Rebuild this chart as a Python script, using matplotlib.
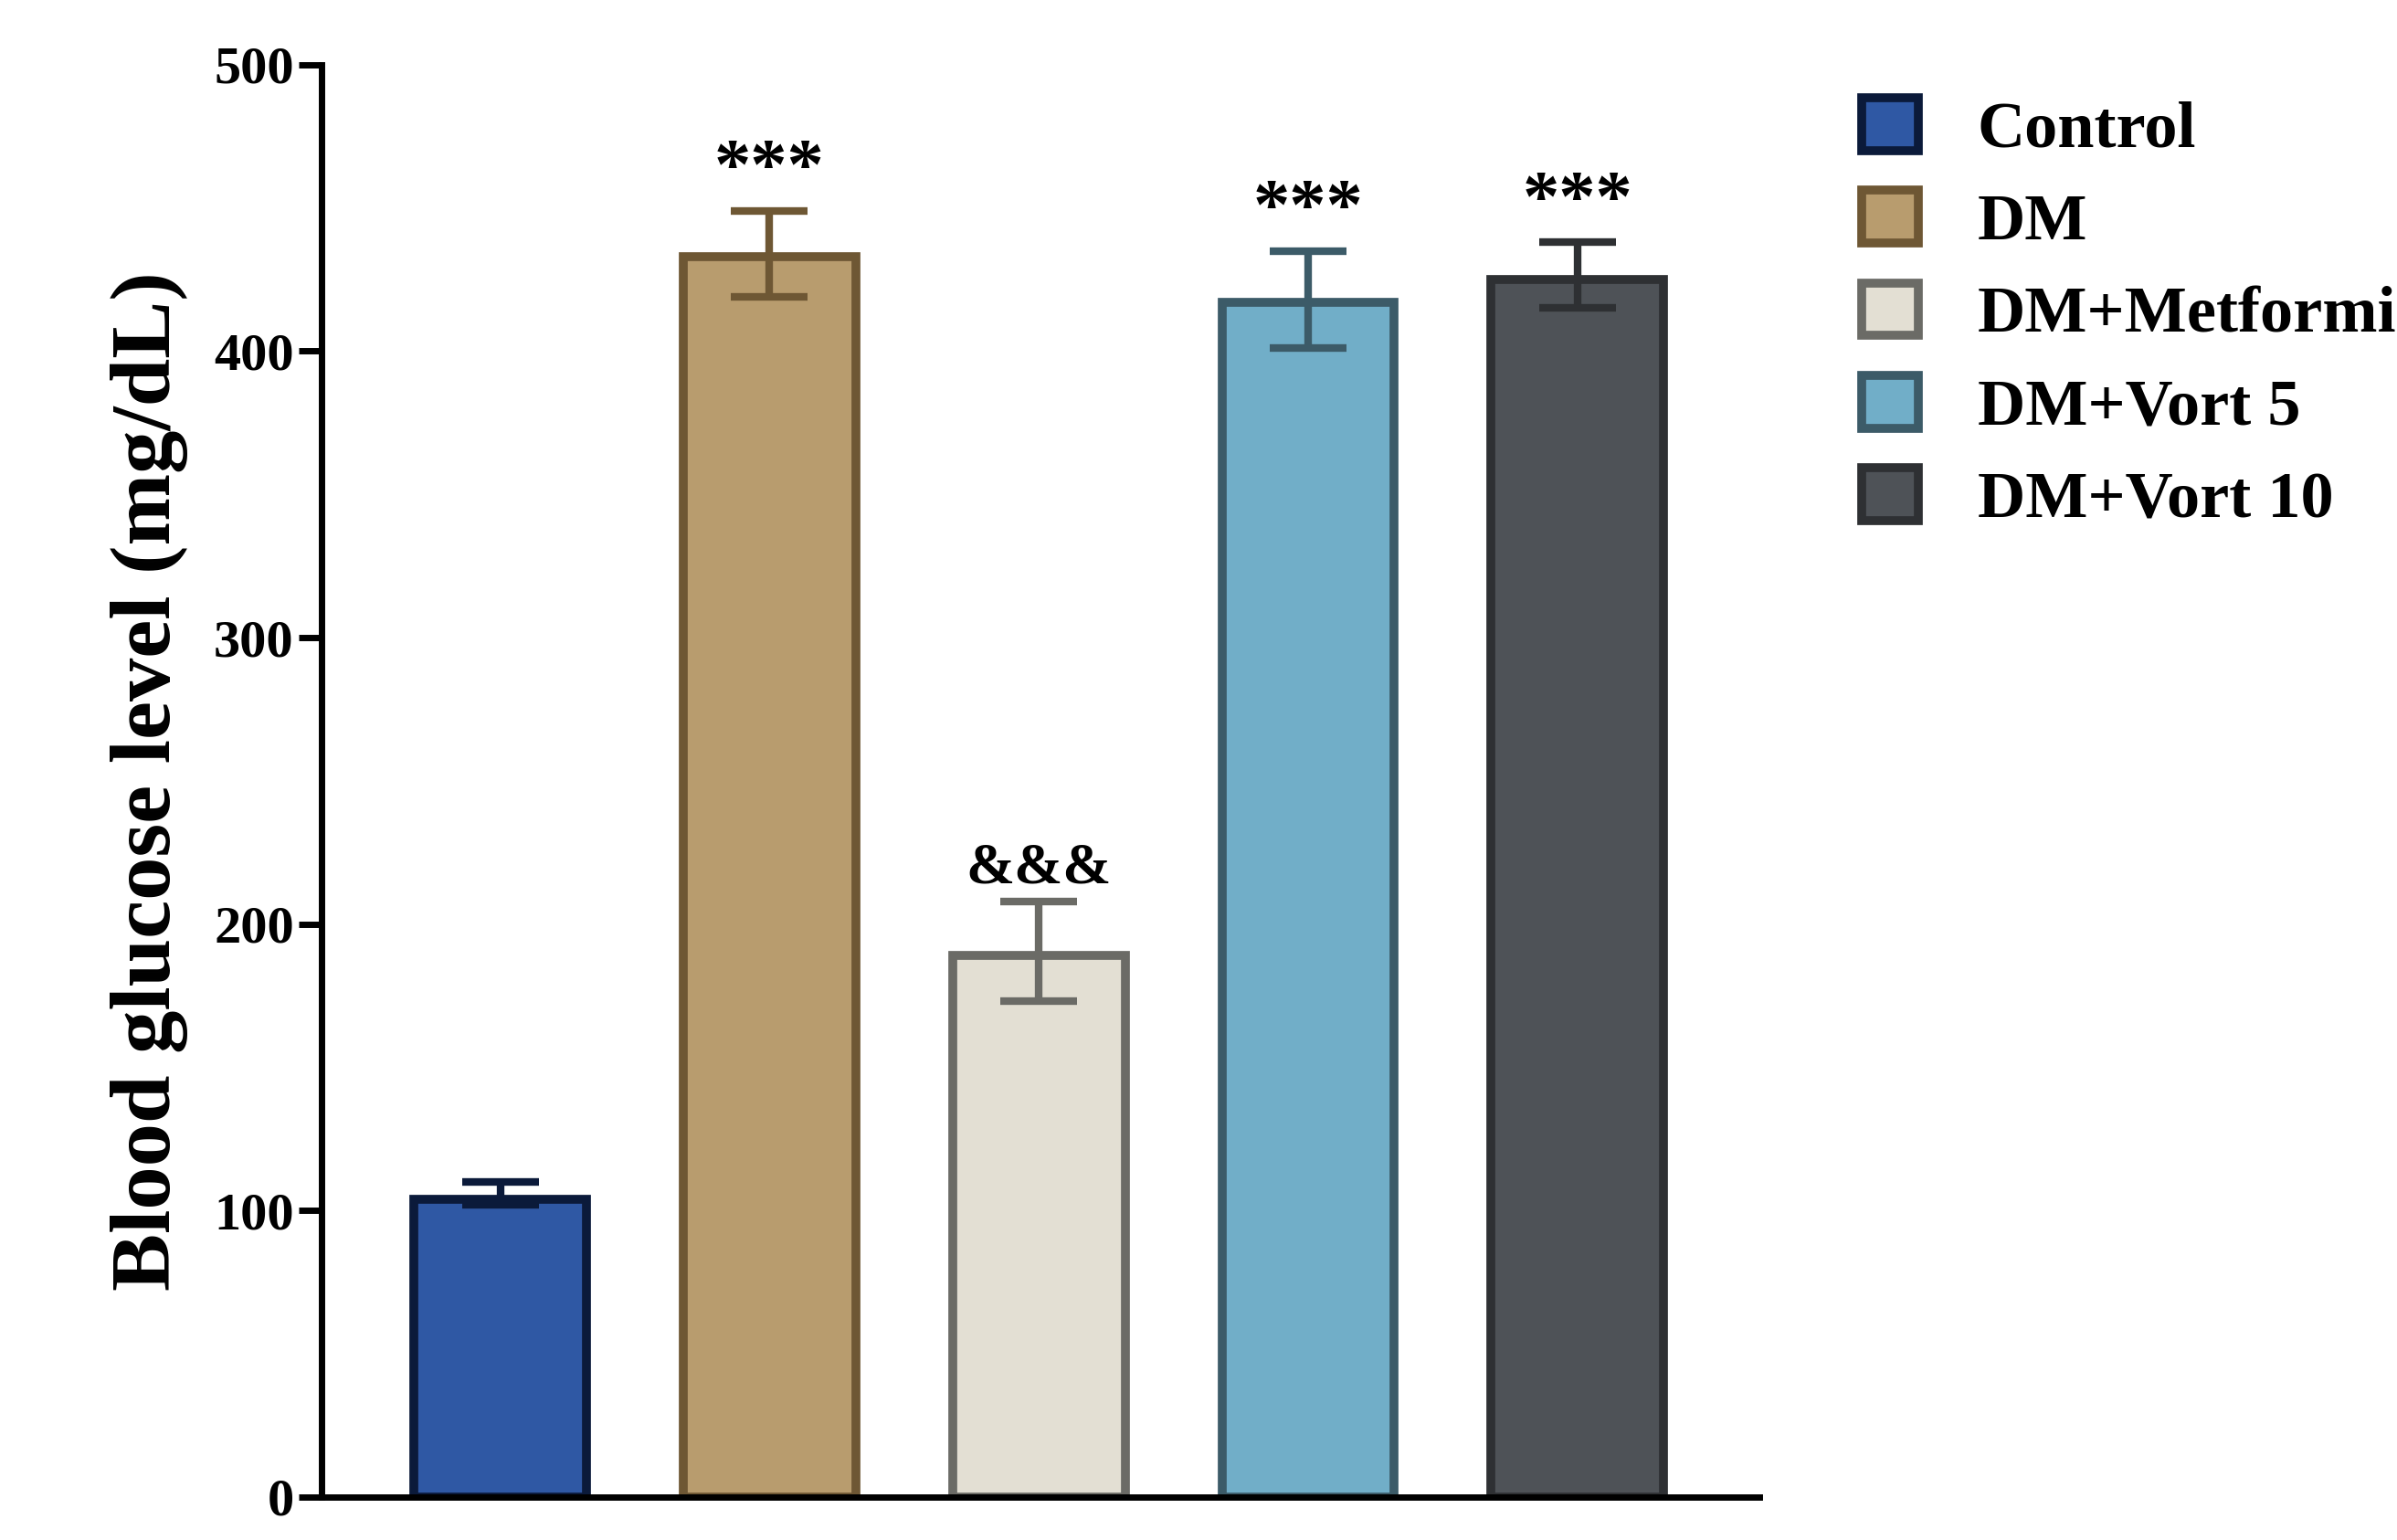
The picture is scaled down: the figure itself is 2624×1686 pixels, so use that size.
import matplotlib.pyplot as plt
import numpy as np

groups = ['Control', 'DM', 'DM+Metformin', 'DM+Vort 5', 'DM+Vort 10']
means = [104, 433, 189, 417, 425]
err_hi = [110, 449, 208, 435, 438]
err_lo = [102, 419, 173, 401, 415]
marks = ['', '***', '&&&', '***', '***']

faces = ['#2F58A4', '#B89C6E', '#E3DFD3', '#71AEC8', '#4E5257']
edges = ['#0B1A3A', '#6E5734', '#6B6B66', '#3C5B68', '#2E3033']

plt.rcParams['font.family'] = ['Liberation Serif', 'DejaVu Serif']
plt.rcParams['font.weight'] = 'bold'

fig = plt.figure(figsize=(26.24, 16.86), dpi=100)
ax = fig.add_axes([0.134, 0.028, 0.60, 0.93])

x = np.arange(len(groups))
for i in range(len(groups)):
    ax.bar(x[i], means[i], width=0.64, color=faces[i], edgecolor=edges[i],
           linewidth=7, label=groups[i], zorder=2)
    lo = means[i] - err_lo[i]
    hi = err_hi[i] - means[i]
    ax.errorbar(x[i], means[i], yerr=[[lo], [hi]], fmt='none', ecolor=edges[i],
                elinewidth=6, capsize=30, capthick=6, zorder=3)
    if marks[i]:
        size = 58 if marks[i] == '***' else 46
        ax.text(x[i], err_hi[i] + 2, marks[i], ha='center', va='bottom',
                fontsize=size, fontweight='bold')

ax.set_xlim(-0.665, 4.676)
ax.set_ylim(0, 500)
ax.set_yticks([0, 100, 200, 300, 400, 500])
ax.set_xticks([])
ax.spines['top'].set_visible(False)
ax.spines['right'].set_visible(False)
ax.spines['left'].set_linewidth(5)
ax.spines['bottom'].set_linewidth(5)
ax.tick_params(axis='y', labelsize=42, width=5, length=18)
for t in ax.get_yticklabels():
    t.set_fontweight('bold')
ax.set_ylabel('Blood glucose level (mg/dL)', fontsize=68, fontweight='bold', labelpad=20)

fig.legend(loc='upper left', bbox_to_anchor=(0.752, 0.975), frameon=False,
           handlelength=0.85, handleheight=0.85, labelspacing=0.45,
           handletextpad=0.9, prop={'weight': 'bold', 'size': 52})

fig.savefig('out.png', dpi=100)
